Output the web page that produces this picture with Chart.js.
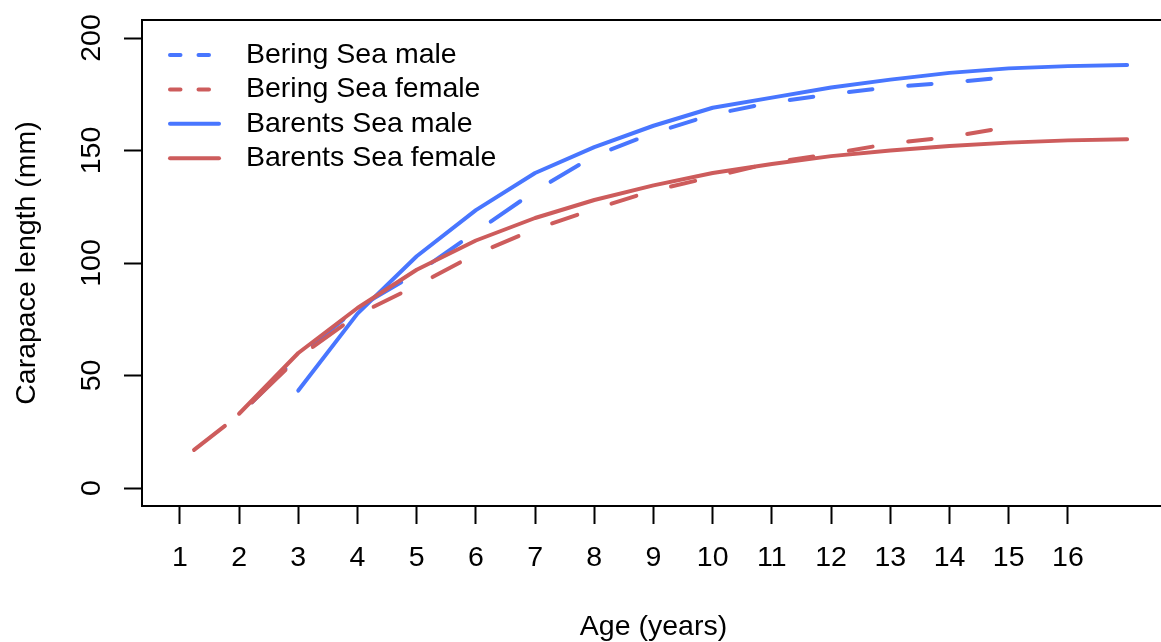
<!DOCTYPE html>
<html><head><meta charset="utf-8">
<script src="https://cdn.jsdelivr.net/npm/chart.js@4"></script>
<style>
html,body{margin:0;padding:0;background:#fff;overflow:hidden}
#wrap{width:1161px;height:642px;overflow:hidden;position:relative;background:#fff}
canvas{display:block}
</style></head><body>
<div id="wrap"><canvas id="c" width="1170" height="642"></canvas></div>
<script>
// ---- data ----
const seriesLabels = ["Bering Sea male", "Bering Sea female", "Barents Sea male", "Barents Sea female"];
const beringMaleAges   = [2, 3, 4, 5, 6, 7, 8, 9, 10, 11, 12, 13, 14, 15];
const beringMaleLen    = [32.5, 58.5, 80, 95.5, 113.8, 132, 147.6, 157.8, 166, 171.4, 175, 178.2, 180.2, 182.6];
const beringFemaleAges = [1, 2, 3, 4, 5, 6, 7, 8, 9, 10, 11, 12, 13, 14, 15];
const beringFemaleLen  = [12, 32.5, 58, 77, 90, 104, 115, 124, 132.2, 138.3, 144.6, 148.5, 153.1, 156, 160.5];
const barentsMaleAges  = [3, 4, 5, 6, 7, 8, 9, 10, 11, 12, 13, 14, 15, 16, 17];
const barentsMaleLen   = [43.3, 77.5, 103, 123.5, 140, 151.5, 161, 169, 173.5, 178, 181.5, 184.5, 186.5, 187.5, 188];
const barentsFemaleAges= [2, 3, 4, 5, 6, 7, 8, 9, 10, 11, 12, 13, 14, 15, 16, 17];
const barentsFemaleLen = [33, 60, 80, 97, 110, 120, 128, 134.5, 140, 144, 147.5, 150, 152, 153.5, 154.5, 155];
const xTickValues = [1, 2, 3, 4, 5, 6, 7, 8, 9, 10, 11, 12, 13, 14, 15, 16];
const yTickValues = [0, 50, 100, 150, 200];
const xTitle = "Age (years)";
const yTitle = "Carapace length (mm)";

// ---- styling ----
const BLUE = "#4876FF", RED = "#CD5C5C";
const FONT = '"Liberation Sans", Arial, Helvetica, sans-serif';
const FS = 28.5;
const LW = 4;
const GAP = 18; // half gap around each point on the broken (Bering) lines

function pts(ages, vals) { return ages.map((a, i) => ({ x: a, y: vals[i] })); }
function segLen(c) { return Math.hypot(c.p1.x - c.p0.x, c.p1.y - c.p0.y); }
const brokenSegment = {
  borderDash: c => { const L = segLen(c); return [Math.max(L - 2 * GAP, 0.01), 2 * GAP]; },
  borderDashOffset: c => segLen(c) - GAP
};

Chart.defaults.font.family = FONT;
Chart.defaults.font.size = FS;
Chart.defaults.color = "#000";

const rPlot = {
  id: 'rPlot',
  afterDraw(chart) {
    const { ctx, chartArea: a, scales } = chart;
    ctx.save();
    ctx.lineWidth = 2; ctx.strokeStyle = "#000";
    ctx.strokeRect(a.left, a.top, a.right - a.left, a.bottom - a.top);
    // y tick labels, rotated like R (las = 0)
    ctx.fillStyle = "#000"; ctx.font = FS + "px " + FONT;
    ctx.textAlign = "center"; ctx.textBaseline = "middle";
    scales.y.ticks.forEach(t => {
      const py = scales.y.getPixelForValue(t.value);
      ctx.save(); ctx.translate(92, py); ctx.rotate(-Math.PI / 2);
      ctx.fillText(String(t.value), 0, 0); ctx.restore();
    });
    // legend (no box)
    chart.data.datasets.forEach((ds, i) => {
      const ly = 55 + i * 34.4;
      ctx.save();
      ctx.strokeStyle = ds.borderColor; ctx.lineWidth = ds.borderWidth; ctx.lineCap = "round";
      ctx.setLineDash(ds.legendDash || []);
      ctx.beginPath(); ctx.moveTo(170, ly); ctx.lineTo(219, ly); ctx.stroke();
      ctx.restore();
      ctx.textAlign = "left"; ctx.textBaseline = "middle";
      ctx.fillText(ds.label, 246, ly);
    });
    ctx.restore();
  }
};

new Chart(document.getElementById('c'), {
  type: 'line',
  data: {
    datasets: [
      { label: seriesLabels[0], data: pts(beringMaleAges, beringMaleLen), borderColor: BLUE, order: 4,
        segment: brokenSegment, legendDash: [10.5, 18] },
      { label: seriesLabels[1], data: pts(beringFemaleAges, beringFemaleLen), borderColor: RED, order: 3,
        segment: brokenSegment, legendDash: [10.5, 18] },
      { label: seriesLabels[2], data: pts(barentsMaleAges, barentsMaleLen), borderColor: BLUE, order: 2 },
      { label: seriesLabels[3], data: pts(barentsFemaleAges, barentsFemaleLen), borderColor: RED, order: 1 }
    ].map(d => Object.assign({ borderWidth: LW, pointRadius: 0, tension: 0, fill: false,
                               borderCapStyle: 'round', borderJoinStyle: 'round' }, d))
  },
  options: {
    responsive: false, animation: false, devicePixelRatio: 1,
    layout: { padding: { top: 20, right: 5, left: 0, bottom: 0 } },
    plugins: { legend: { display: false }, tooltip: { enabled: false } },
    scales: {
      x: {
        type: 'linear', min: 0.36, max: 17.64,
        afterBuildTicks: s => { s.ticks = xTickValues.map(v => ({ value: v })); },
        afterFit: s => { s.height = 136; },
        ticks: { padding: 17, autoSkip: false, maxRotation: 0, color: "#000", font: { size: FS } },
        grid: { drawOnChartArea: false, drawTicks: true, tickLength: 18, tickColor: "#000", tickWidth: 2 },
        border: { display: false },
        title: { display: true, text: xTitle, color: "#000", font: { size: FS }, padding: { top: 0, bottom: -2 } }
      },
      y: {
        type: 'linear', min: -8, max: 208,
        afterBuildTicks: s => { s.ticks = yTickValues.map(v => ({ value: v })); },
        afterFit: s => { s.width = 142; },
        ticks: { display: false },
        grid: { drawOnChartArea: false, drawTicks: true, tickLength: 18, tickColor: "#000", tickWidth: 2 },
        border: { display: false },
        title: { display: true, text: yTitle, color: "#000", font: { size: FS }, padding: { top: 10, bottom: 0 } }
      }
    }
  },
  plugins: [rPlot]
});
</script>
</body></html>
